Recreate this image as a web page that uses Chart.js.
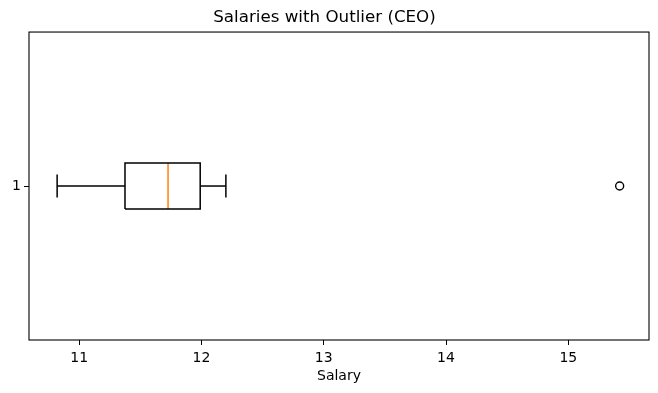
<!DOCTYPE html>
<html>
<head>
<meta charset="utf-8">
<script src="https://cdn.jsdelivr.net/npm/chart.js@4"></script>
<style>
  html, body { margin: 0; padding: 0; background: #fff; }
  canvas { display: block; }
</style>
</head>
<body>
<canvas id="boxChart" width="658" height="393"></canvas>
<script>
// values
const categories  = ["1"];
const positions   = [1];
const whiskerLow  = [10.82];
const q1          = [11.375];
const median      = [11.727];
const q3          = [11.99];
const whiskerHigh = [12.20];
const outliers    = [[15.42]];
const xTicks      = [11, 12, 13, 14, 15];

const boxHalf = 0.075;   // matplotlib box width 0.15
const capHalf = 0.0375;

function line(points, color) {
  return {
    type: "scatter",
    data: points,
    showLine: true,
    borderColor: color,
    borderWidth: 1.5,
    pointRadius: 0,
    fill: false,
  };
}

const datasets = [];
positions.forEach((p, i) => {
  // box
  datasets.push(line([
    { x: q1[i], y: p - boxHalf }, { x: q3[i], y: p - boxHalf },
    { x: q3[i], y: p + boxHalf }, { x: q1[i], y: p + boxHalf },
    { x: q1[i], y: p - boxHalf }
  ], "#000"));
  // whiskers
  datasets.push(line([{ x: whiskerLow[i], y: p }, { x: q1[i], y: p }], "#000"));
  datasets.push(line([{ x: q3[i], y: p }, { x: whiskerHigh[i], y: p }], "#000"));
  // caps
  datasets.push(line([{ x: whiskerLow[i], y: p - capHalf }, { x: whiskerLow[i], y: p + capHalf }], "#000"));
  datasets.push(line([{ x: whiskerHigh[i], y: p - capHalf }, { x: whiskerHigh[i], y: p + capHalf }], "#000"));
  // median
  datasets.push(line([{ x: median[i], y: p - boxHalf }, { x: median[i], y: p + boxHalf }], "#ff7f0e"));
  // fliers
  datasets.push({
    type: "scatter",
    data: outliers[i].map(v => ({ x: v, y: p })),
    pointRadius: 4,
    pointBackgroundColor: "rgba(0,0,0,0)",
    pointBorderColor: "#000",
    pointBorderWidth: 1.4,
  });
});

// frame round the plot (matplotlib spines)
const frame = {
  id: "frame",
  afterDraw(c) {
    const a = c.chartArea, ctx = c.ctx;
    ctx.save();
    ctx.strokeStyle = "#000";
    ctx.lineWidth = 1.1;
    ctx.strokeRect(a.left, a.top, a.right - a.left, a.bottom - a.top);
    ctx.restore();
  }
};

const font = { family: "DejaVu Sans", size: 14 };

new Chart(document.getElementById("boxChart"), {
  type: "scatter",
  data: { datasets },
  options: {
    responsive: false,
    animation: false,
    devicePixelRatio: 1,
    layout: { padding: { left: 0, right: 9, top: 0, bottom: 0 } },
    plugins: {
      legend: { display: false },
      tooltip: { enabled: false },
      title: {
        display: true,
        text: "Salaries with Outlier (CEO)",
        color: "#000",
        font: { family: "DejaVu Sans", size: 16.7, weight: "normal" },
        padding: { top: 8, bottom: 4 },
      },
    },
    scales: {
      x: {
        type: "linear",
        min: 10.59,
        max: 15.66,
        afterBuildTicks: s => { s.ticks = xTicks.map(v => ({ value: v })); },
        afterFit: s => { s.height = 53; },
        grid: { drawOnChartArea: false, drawTicks: true, tickLength: 5, color: "#000" },
        border: { display: false },
        ticks: { color: "#000", font, padding: 5, maxRotation: 0 },
        title: {
          display: true, text: "Salary", color: "#000", font,
          padding: { top: 0, bottom: 8 },
        },
      },
      y: {
        type: "linear",
        min: 0.5,
        max: 1.5,
        afterBuildTicks: s => { s.ticks = positions.map(v => ({ value: v })); },
        afterFit: s => { s.width = 29; },
        grid: { drawOnChartArea: false, drawTicks: true, tickLength: 5, color: "#000" },
        border: { display: false },
        ticks: {
          color: "#000", font, padding: 3,
          callback: v => categories[positions.indexOf(v)] ?? "",
        },
      },
    },
  },
  plugins: [frame],
});
</script>
</body>
</html>
